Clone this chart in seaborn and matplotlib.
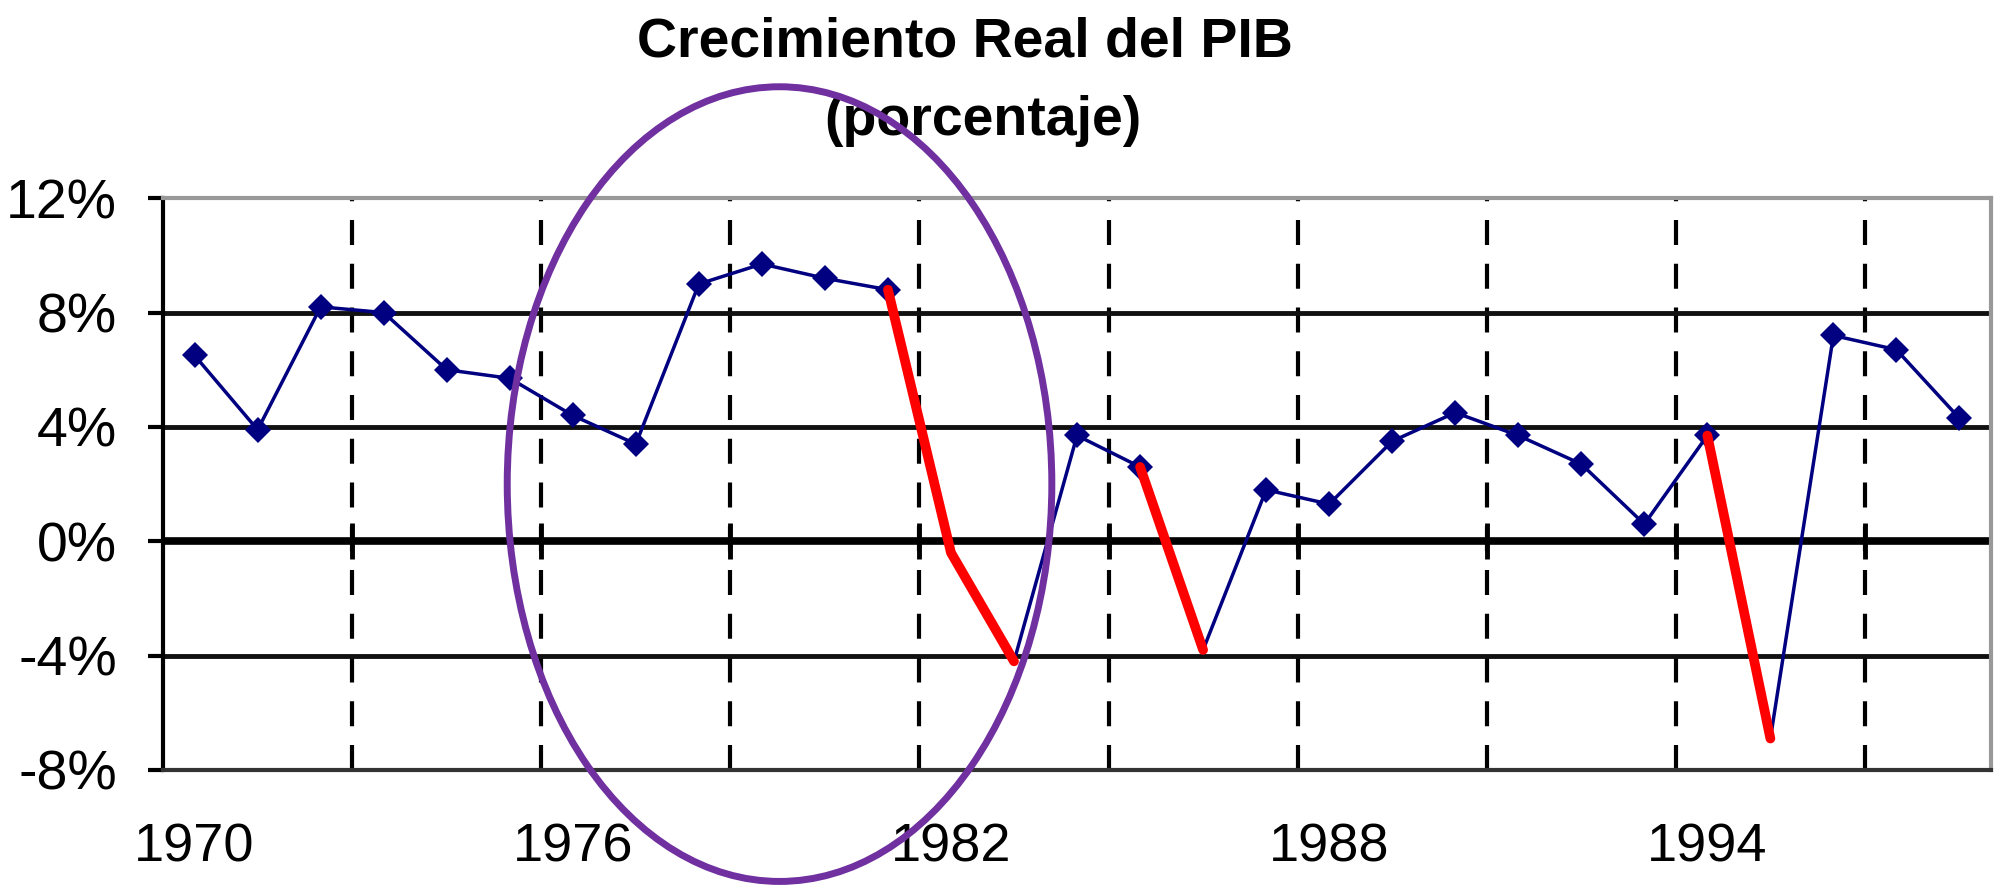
import numpy as np
import pandas as pd
import seaborn as sb
import matplotlib.pyplot as plt
from matplotlib.patches import Ellipse

# Crecimiento real del PIB, 1970-1998
anios = list(range(1970, 1999))
crecimiento = [6.5, 3.9, 8.2, 8.0, 6.0, 5.7, 4.4, 3.4, 9.0, 9.7, 9.2, 8.8,
               -0.4, -4.2, 3.7, 2.6, -3.8, 1.8, 1.3, 3.5, 4.5, 3.7, 2.7, 0.6,
               3.7, -6.9, 7.2, 6.7, 4.3]

# tramos de caida marcados en rojo (anio inicial, anio final)
tramos_caida = [(1981, 1983), (1985, 1986), (1994, 1995)]

etiquetas_y = [-8, -4, 0, 4, 8, 12]
etiquetas_x = [1970, 1976, 1982, 1988, 1994]

datos = pd.DataFrame({"Anio": anios, "Crecimiento": crecimiento})

sb.set_style("white")
plt.rcParams["font.family"] = ["Liberation Sans Narrow", "Liberation Sans", "DejaVu Sans"]
plt.rcParams["text.color"] = "black"
plt.rcParams["xtick.color"] = "black"
plt.rcParams["ytick.color"] = "black"

fig = plt.figure(figsize=(20.01, 8.85), dpi=100)
ax = fig.add_axes([0.0815, 0.130, 0.9135, 0.646])

# puntos tapados por la linea roja no llevan marcador
sin_marca = [a for ini, fin in tramos_caida for a in range(ini + 1, fin + 1)]
con_marca = [i for i, a in enumerate(anios) if a not in sin_marca]

sb.lineplot(data=datos, x="Anio", y="Crecimiento", color="#000080", linewidth=2.5,
            marker="D", markersize=13, markeredgewidth=0, markevery=con_marca, ax=ax, zorder=4)

for ini, fin in tramos_caida:
    tramo = datos[(datos["Anio"] >= ini) & (datos["Anio"] <= fin)]
    sb.lineplot(data=tramo, x="Anio", y="Crecimiento", color="#ff0000", linewidth=7,
                ax=ax, zorder=5)

ax.set_xlim(anios[0] - 0.5, anios[-1] + 0.5)
ax.set_ylim(etiquetas_y[0], etiquetas_y[-1])

# lineas de division horizontales y eje en cero
ax.set_yticks(etiquetas_y)
ax.set_yticklabels([f"{v}%" for v in etiquetas_y])
for v in etiquetas_y[1:-1]:
    if v == 0:
        ax.axhline(v, color="black", linewidth=5.5, zorder=2)
    else:
        ax.axhline(v, color="#111111", linewidth=3.5, zorder=2)

# divisiones verticales punteadas cada 3 categorias
divisiones = [a + 0.5 for a in anios[2:-1:3]]
for d in divisiones:
    ax.axvline(d, color="black", linewidth=3, linestyle=(0, (6, 4.5)), zorder=1)
ax.plot(divisiones, [0] * len(divisiones), linestyle="none", marker="|",
        markersize=26, markeredgewidth=3.5, color="black", zorder=3)

ax.set_xticks(etiquetas_x)
ax.set_xticklabels([str(a) for a in etiquetas_x])
ax.tick_params(axis="x", length=0, pad=38, labelsize=39)
ax.tick_params(axis="y", direction="out", length=11, width=3, color="black",
               pad=22, labelsize=40, left=True)

ax.set_xlabel("")
ax.set_ylabel("")

ax.spines["left"].set_color("black")
ax.spines["left"].set_linewidth(3)
ax.spines["bottom"].set_color("#333333")
ax.spines["bottom"].set_linewidth(3)
ax.spines["top"].set_color("#999999")
ax.spines["top"].set_linewidth(3)
ax.spines["right"].set_color("#999999")
ax.spines["right"].set_linewidth(3)

# ovalo morado que resalta 1976-1982 (encima del titulo)
ovalo = Ellipse((1979.28, 2.0), 8.64, 27.8, fill=False, edgecolor="#7030a0",
                linewidth=5, clip_on=False, zorder=6)
ax.add_patch(ovalo)

ax.text(0.482, 0.9525, "Crecimiento Real del PIB", transform=fig.transFigure,
        ha="center", va="center", fontsize=40, fontweight="bold", zorder=3)
ax.text(0.491, 0.863, "(porcentaje)", transform=fig.transFigure,
        ha="center", va="center", fontsize=40, fontweight="bold", zorder=3)

fig.savefig("out.png", dpi=100)
